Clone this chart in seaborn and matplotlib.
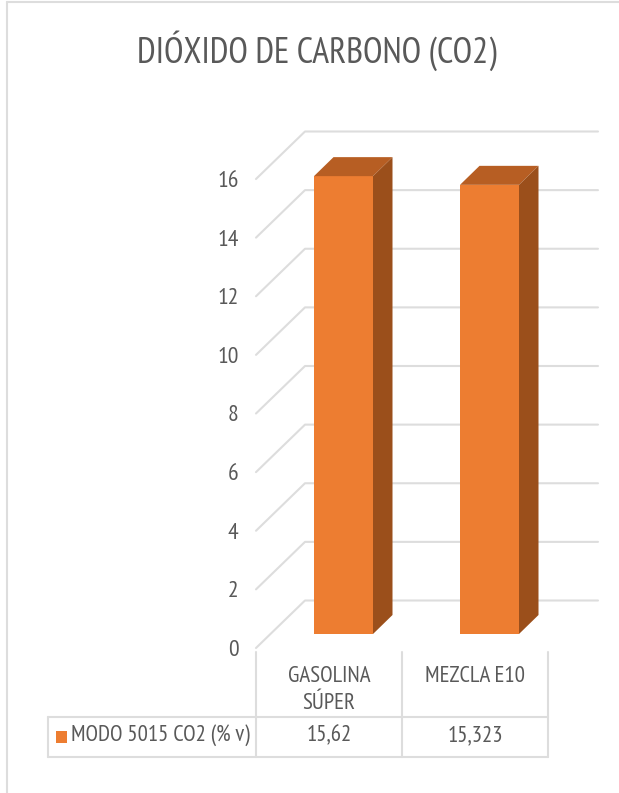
import matplotlib
matplotlib.use("Agg")
import matplotlib.pyplot as plt
import matplotlib.font_manager as fm
from matplotlib.lines import Line2D
from matplotlib.patches import Polygon, Rectangle
from matplotlib.transforms import Affine2D, IdentityTransform
import seaborn as sns

categories = ["GASOLINA\nSÚPER", "MEZCLA E10"]
values = [15.62, 15.323]
value_labels = ["15,62", "15,323"]
series_name = "MODO 5015 CO2 (% v)"
title = "DIÓXIDO DE CARBONO (CO2)"
yticks = [0, 2, 4, 6, 8, 10, 12, 14, 16]

W, H = 619, 793
ORANGE, TOP, SIDE = "#ED7D31", "#B75E23", "#9B4F1B"
GRID, TEXT = "#DDDDDD", "#595959"

sns.set_theme(style="white")
names = {f.name for f in fm.fontManager.ttflist}
primary = "PT Sans Narrow" if "PT Sans Narrow" in names else "Liberation Sans"
plt.rcParams["font.family"] = [primary, "DejaVu Sans"]

fig = plt.figure(figsize=(W / 100, H / 100), dpi=100, facecolor="white")
ax = fig.add_axes([256 / W, (H - 648) / H, 292 / W, 469 / H])
ax.patch.set_alpha(0)

sns.barplot(x=categories, y=values, color=ORANGE, saturation=1, width=59 / 146, ax=ax, zorder=3)
ax.set_xlim(-0.5, 1.5)
ax.set_ylim(0, 16)
ax.set_yticks(yticks, [str(t) for t in yticks])
ax.tick_params(axis="y", length=0, pad=12.5, labelsize=17, labelcolor=TEXT)
ax.tick_params(axis="x", length=0, pad=13, labelsize=16.5, labelcolor=TEXT)
for lab in ax.get_xticklabels():
    lab.set_linespacing(1.35)
for lab in ax.get_yticklabels():
    lab.set_y(lab.get_position()[1])
for s in ax.spines.values():
    s.set_visible(False)

fig.canvas.draw()
back_dx, back_dy = 49, 47.5      # wall depth, pixels
front_dx, front_dy = 14.5, 14    # bar inset from floor front
bar_dx, bar_dy = 19.5, 19        # bar depth
px = IdentityTransform()

# back wall + side wall gridlines
for t in yticks:
    x0, y0 = ax.transData.transform((-0.5, t))
    fig.add_artist(Line2D([x0, x0 + back_dx, 598], [y0, y0 + back_dy, y0 + back_dy],
                          transform=px, color=GRID, lw=1.5, zorder=0))

# bars: front (seaborn rectangle), top and side faces derived from its data
shift = Affine2D().translate(front_dx, front_dy)
for p in list(ax.patches):
    p.set_transform(ax.transData + shift)
    p.set_clip_on(False)
    p.set_edgecolor("none")
    xa, ya = (ax.transData + shift).transform((p.get_x(), p.get_y()))
    xb, yb = (ax.transData + shift).transform((p.get_x() + p.get_width(), p.get_height()))
    ax.add_patch(Polygon([(xa, yb), (xb, yb), (xb + bar_dx, yb + bar_dy), (xa + bar_dx, yb + bar_dy)],
                         transform=px, facecolor=TOP, edgecolor="none", clip_on=False, zorder=3))
    ax.add_patch(Polygon([(xb, ya), (xb + bar_dx, ya + bar_dy), (xb + bar_dx, yb + bar_dy), (xb, yb)],
                         transform=px, facecolor=SIDE, edgecolor="none", clip_on=False, zorder=3))

def hline(y, x0, x1):
    fig.add_artist(Line2D([x0, x1], [H - y, H - y], transform=px, color=GRID, lw=1.5))

def vline(x, y0, y1):
    fig.add_artist(Line2D([x, x], [H - y0, H - y1], transform=px, color=GRID, lw=1.5))

# data table
hline(717, 48, 548)
hline(757, 48, 548)
vline(48, 717, 757)
for xp in (256, 402, 548):
    vline(xp, 652, 757)

for i, lab in enumerate(value_labels):
    xp = ax.transData.transform((i, 0))[0]
    fig.text(xp / W, 1 - 736 / H, lab, ha="center", va="center", fontsize=16.5, color=TEXT)

fig.add_artist(Rectangle((56, H - 743), 11, 12, transform=px, facecolor=ORANGE, edgecolor="none"))
fig.text(71 / W, 1 - 735 / H, series_name, ha="left", va="center", fontsize=16.4, color=TEXT)

# title
fig.text(317 / W, 1 - 51 / H, title, ha="center", va="center", fontsize=25.7, color=TEXT)

# outer frame
hline(2, 7, W)
vline(7, 2, H)

fig.savefig("out.png", dpi=100, facecolor="white")
